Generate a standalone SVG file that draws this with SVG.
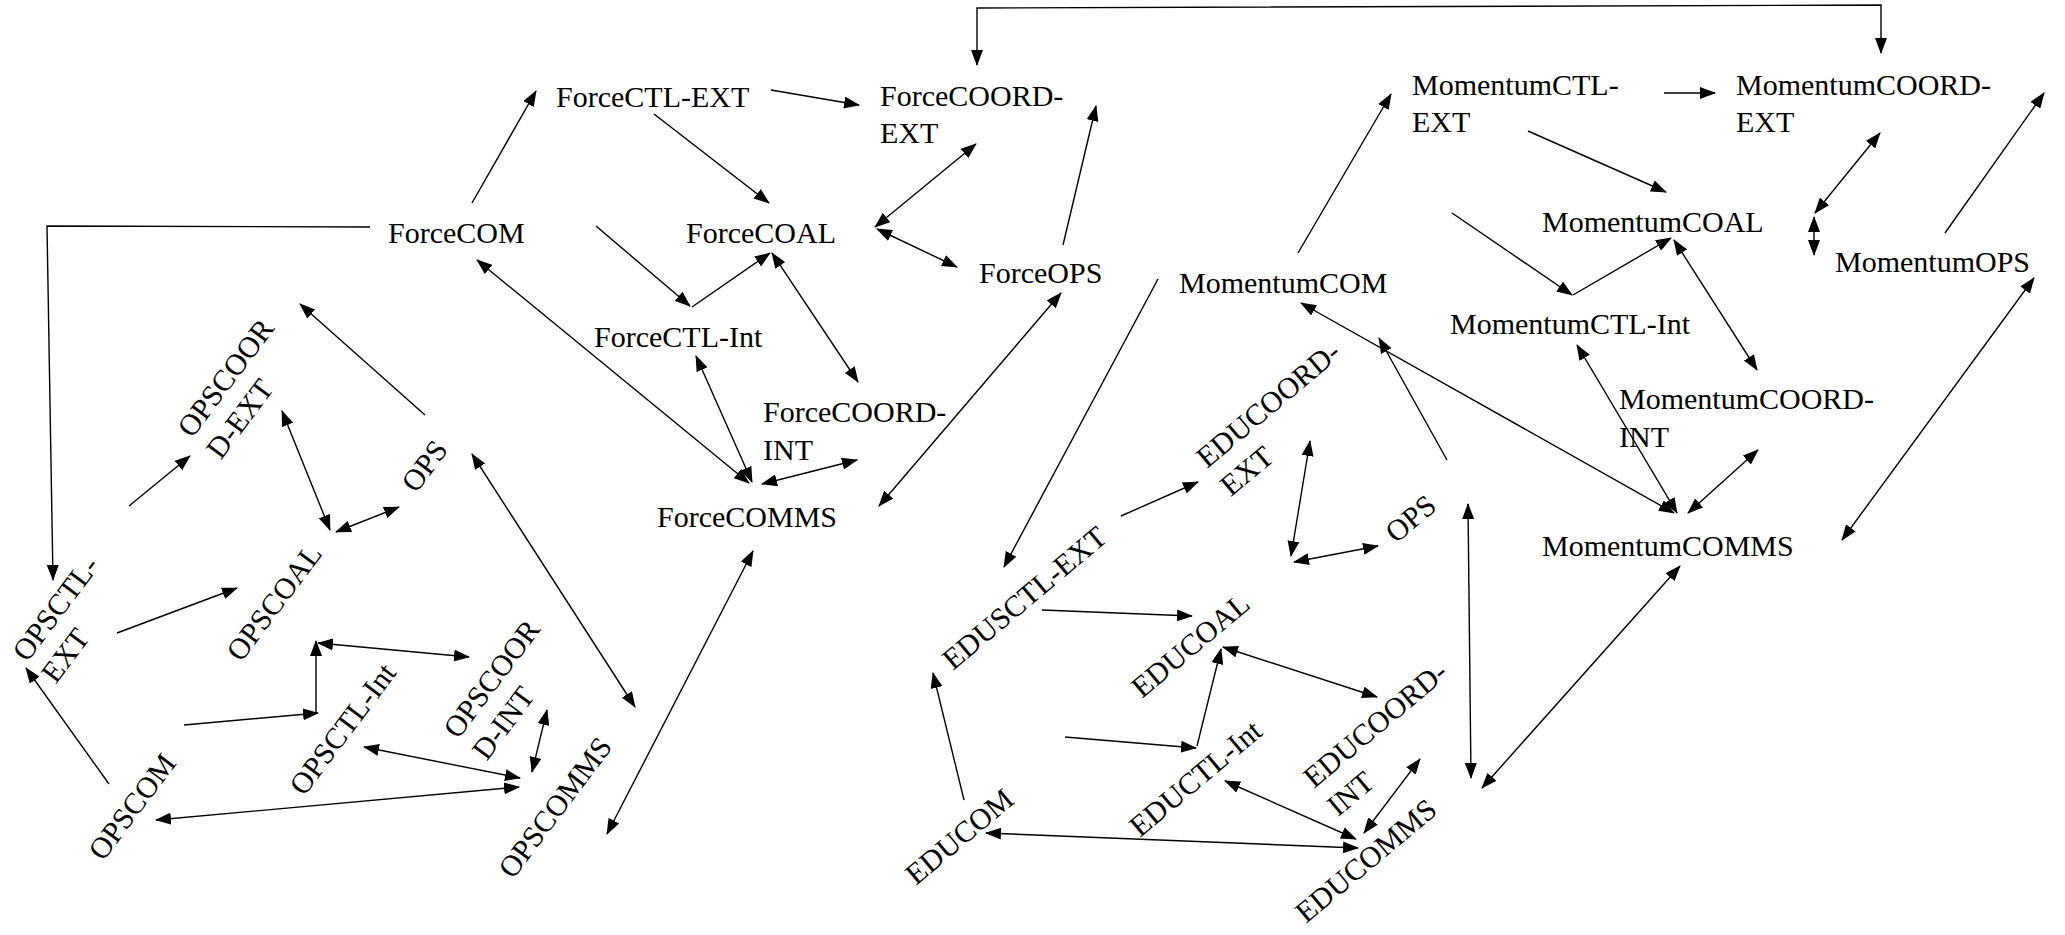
<svg xmlns="http://www.w3.org/2000/svg" width="2065" height="935" viewBox="0 0 2065 935">
<style>
  text { font-family: "Liberation Serif", "Times New Roman", serif; font-size: 30px; fill: #000; }
  .c path { fill: none; stroke: #000; stroke-width: 1.4; }
  .e { marker-end: url(#ah); }
  .b { marker-start: url(#ah); marker-end: url(#ah); }
</style>
<defs>
  <marker id="ah" markerUnits="userSpaceOnUse" markerWidth="16" markerHeight="12" viewBox="0 0 16 12" refX="15" refY="6" orient="auto-start-reverse">
    <path d="M0,0 L16,6 L0,12 z" fill="#000"/>
  </marker>
</defs>
<rect width="2065" height="935" fill="#fff"/>

<!-- Force group -->
<g id="ForceCTL-EXT"><text x="556" y="107">ForceCTL-EXT</text></g>
<g id="ForceCOORD-EXT"><text x="880" y="106">ForceCOORD-<tspan x="880" dy="37">EXT</tspan></text></g>
<g id="ForceCOM"><text x="388" y="243">ForceCOM</text></g>
<g id="ForceCOAL"><text x="686" y="243">ForceCOAL</text></g>
<g id="ForceOPS"><text x="979" y="283">ForceOPS</text></g>
<g id="ForceCTL-Int"><text x="594" y="347">ForceCTL-Int</text></g>
<g id="ForceCOORD-INT"><text x="763" y="422">ForceCOORD-<tspan x="763" dy="38">INT</tspan></text></g>
<g id="ForceCOMMS"><text x="657" y="527">ForceCOMMS</text></g>

<!-- Momentum group -->
<g id="MomentumCTL-EXT"><text x="1412" y="95">MomentumCTL-<tspan x="1412" dy="37">EXT</tspan></text></g>
<g id="MomentumCOORD-EXT"><text x="1736" y="95">MomentumCOORD-<tspan x="1736" dy="37">EXT</tspan></text></g>
<g id="MomentumCOAL"><text x="1542" y="232">MomentumCOAL</text></g>
<g id="MomentumOPS"><text x="1835" y="272">MomentumOPS</text></g>
<g id="MomentumCOM"><text x="1179" y="293">MomentumCOM</text></g>
<g id="MomentumCTL-Int"><text x="1450" y="334">MomentumCTL-Int</text></g>
<g id="MomentumCOORD-INT"><text x="1619" y="409">MomentumCOORD-<tspan x="1619" dy="38">INT</tspan></text></g>
<g id="MomentumCOMMS"><text x="1542" y="556">MomentumCOMMS</text></g>

<!-- OPS group (rotated) -->
<g id="OPSCOORD-EXT"><text transform="translate(192,439) rotate(-53)">OPSCOOR<tspan x="0" dy="36">D-EXT</tspan></text></g>
<g id="OPS"><text transform="translate(416,494) rotate(-53)">OPS</text></g>
<g id="OPSCTL-EXT"><text transform="translate(27,663) rotate(-53)">OPSCTL-<tspan x="0" dy="36">EXT</tspan></text></g>
<g id="OPSCOAL"><text transform="translate(241,663) rotate(-53)">OPSCOAL</text></g>
<g id="OPSCOM"><text transform="translate(103,862) rotate(-53)">OPSCOM</text></g>
<g id="OPSCTL-Int"><text transform="translate(304,797) rotate(-53)">OPSCTL-Int</text></g>
<g id="OPSCOORD-INT"><text transform="translate(458,740) rotate(-53)">OPSCOOR<tspan x="0" dy="36">D-INT</tspan></text></g>
<g id="OPSCOMMS"><text transform="translate(513,880) rotate(-53)">OPSCOMMS</text></g>

<!-- EDU group (rotated) -->
<g id="EDUCOORD-EXT"><text transform="translate(1207,469) rotate(-40)">EDUCOORD-<tspan x="0" dy="37">EXT</tspan></text></g>
<g id="EDUOPS"><text transform="translate(1396,544) rotate(-40)">OPS</text></g>
<g id="EDUSCTL-EXT"><text transform="translate(953,671) rotate(-40)">EDUSCTL-EXT</text></g>
<g id="EDUCOAL"><text transform="translate(1142,699) rotate(-40)">EDUCOAL</text></g>
<g id="EDUCOORD-INT"><text transform="translate(1314,789) rotate(-40)">EDUCOORD-<tspan x="0" dy="37">INT</tspan></text></g>
<g id="EDUCOM"><text transform="translate(916,886) rotate(-40)">EDUCOM</text></g>
<g id="EDUCTL-Int"><text transform="translate(1140,838) rotate(-40)">EDUCTL-Int</text></g>
<g id="EDUCOMMS"><text transform="translate(1306,924) rotate(-40)">EDUCOMMS</text></g>

<g id="connectors" class="c">
  <path class="b" d="M977,65 L977,8 L1881,5 L1881,53"/>
  <path class="e" d="M472,203 L536,91"/>
  <path class="e" d="M771,90 L859,105"/>
  <path class="e" d="M654,114 L769,203"/>
  <path class="e" d="M370,227 L47,226 L53,580"/>
  <path class="e" d="M596,226 L690,306"/>
  <path class="e" d="M692,307 L770,253"/>
  <path class="b" d="M875,227 L976,144"/>
  <path class="b" d="M877,229 L957,267"/>
  <path class="e" d="M1063,245 L1096,106"/>
  <path class="b" d="M749,483 L477,260"/>
  <path class="b" d="M752,482 L696,356"/>
  <path class="b" d="M772,253 L858,382"/>
  <path class="b" d="M762,484 L857,460"/>
  <path class="b" d="M879,506 L1061,293"/>
  <path class="b" d="M753,551 L607,834"/>
  <path class="e" d="M1158,279 L1004,567"/>

  <path class="e" d="M425,415 L300,304"/>
  <path class="e" d="M129,506 L190,456"/>
  <path class="b" d="M282,411 L330,530"/>
  <path class="b" d="M336,532 L399,507"/>
  <path class="b" d="M472,454 L635,707"/>
  <path class="e" d="M117,633 L237,588"/>
  <path class="e" d="M109,784 L26,668"/>
  <path class="e" d="M184,725 L318,713"/>
  <path class="e" d="M316,713 L316,641"/>
  <path class="b" d="M318,643 L469,657"/>
  <path class="b" d="M364,747 L520,778"/>
  <path class="b" d="M532,772 L547,710"/>
  <path class="b" d="M156,820 L519,787"/>

  <path class="e" d="M1121,516 L1198,482"/>
  <path class="b" d="M1310,441 L1291,556"/>
  <path class="b" d="M1294,562 L1378,546"/>
  <path class="e" d="M1447,460 L1379,338"/>
  <path class="b" d="M1301,303 L1674,513"/>
  <path class="b" d="M1468,504 L1471,778"/>
  <path class="b" d="M1680,566 L1482,788"/>
  <path class="e" d="M1042,610 L1192,616"/>
  <path class="e" d="M1065,737 L1196,748"/>
  <path class="e" d="M1197,746 L1221,649"/>
  <path class="b" d="M1223,647 L1377,697"/>
  <path class="e" d="M964,800 L933,673"/>
  <path class="b" d="M1225,781 L1356,839"/>
  <path class="b" d="M1364,833 L1420,759"/>
  <path class="b" d="M986,833 L1358,848"/>

  <path class="e" d="M1298,253 L1391,94"/>
  <path class="e" d="M1664,93 L1715,93"/>
  <path class="e" d="M1528,131 L1666,192"/>
  <path class="e" d="M1452,213 L1572,295"/>
  <path class="e" d="M1573,295 L1671,238"/>
  <path class="b" d="M1880,133 L1815,213"/>
  <path class="b" d="M1814,217 L1814,255"/>
  <path class="e" d="M1945,233 L2044,93"/>
  <path class="b" d="M1674,240 L1757,370"/>
  <path class="b" d="M1577,345 L1677,513"/>
  <path class="b" d="M1688,513 L1758,450"/>
  <path class="b" d="M2034,278 L1842,540"/>
</g>
</svg>
